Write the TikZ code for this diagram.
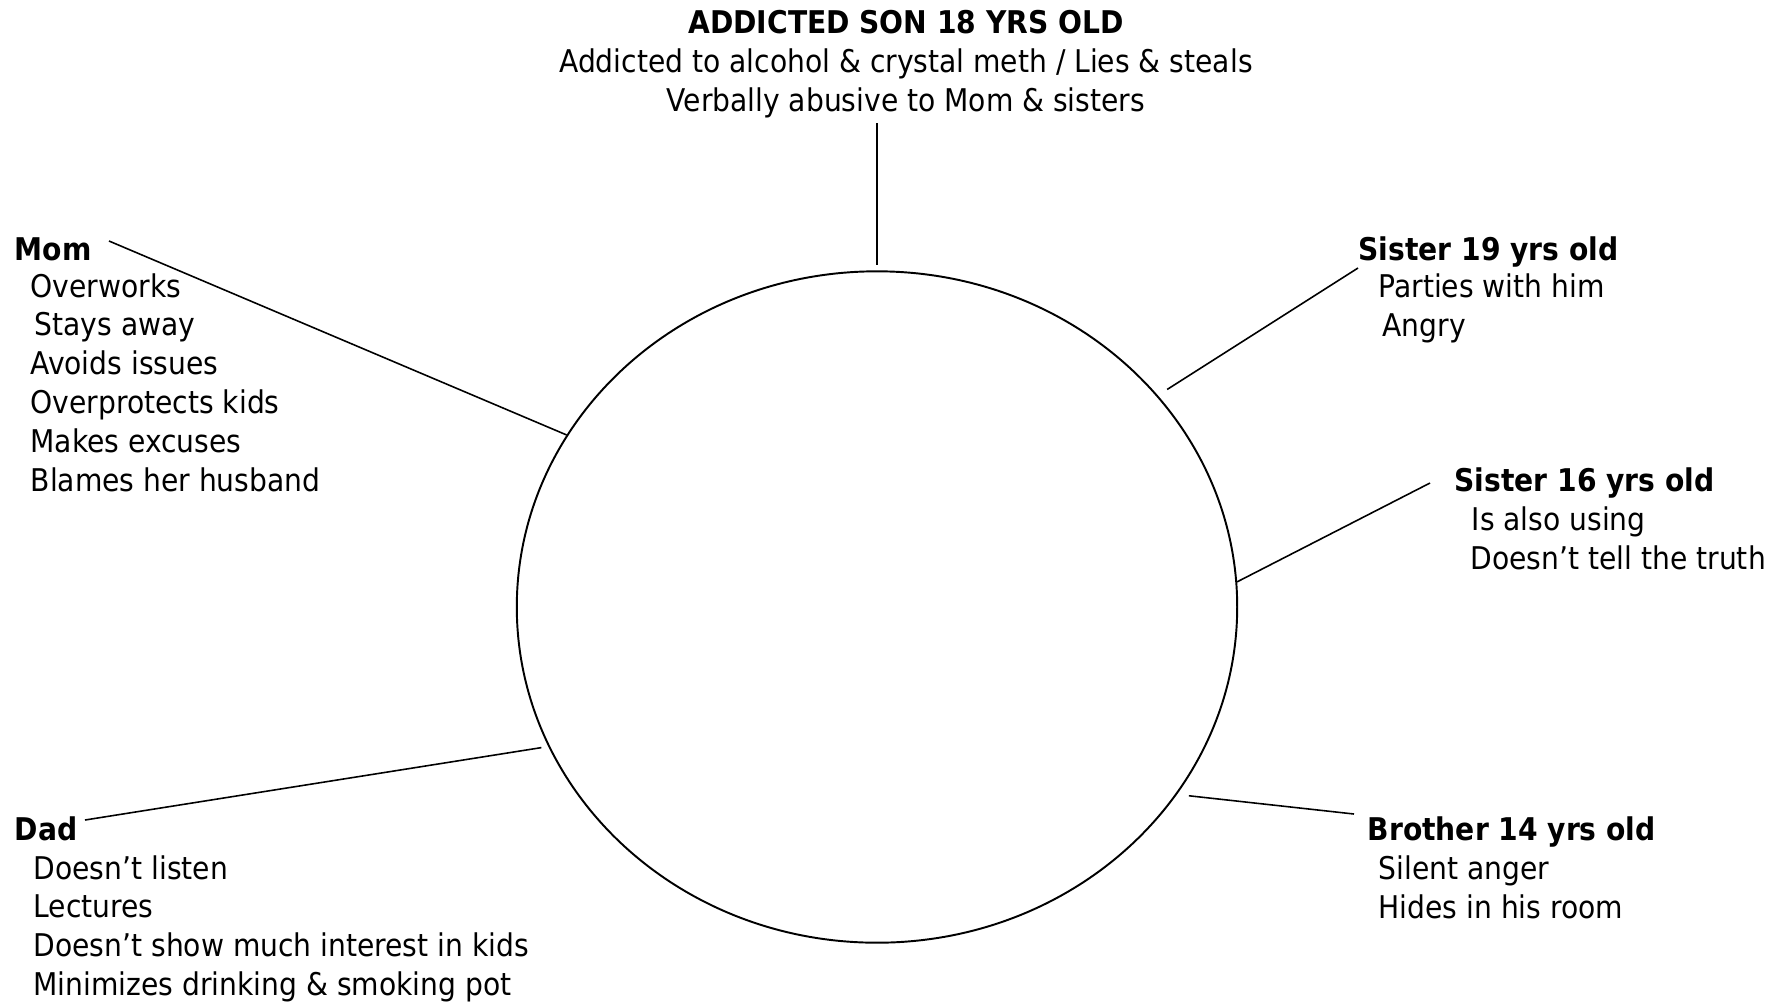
\documentclass[tikz,border=0pt]{standalone}
\usepackage{fontspec}
\setmainfont{DejaVu Sans Condensed}
\usetikzlibrary{shapes.geometric}
\tikzset{
  head/.style={font=\fontsize{8.9}{11}\selectfont\bfseries, inner sep=0pt, anchor=base west},
  item/.style={font=\fontsize{8.9}{11}\selectfont, inner sep=0pt, anchor=base west},
  spoke/.style={line width=0.45pt},
}
\begin{document}
\begin{tikzpicture}[x=0.01cm, y=-0.01cm]
  \useasboundingbox (0,0) rectangle (1781,1005);

  % Son in the middle
  \node[draw, ellipse, line width=0.55pt, minimum width=7.2cm, minimum height=6.71cm, inner sep=0pt] (son) at (877,607) {};
  \node[head, anchor=base] (sonhead) at (906,33) {ADDICTED SON 18 YRS OLD};
  \node[item, anchor=base] (son1) at (906,72) {Addicted to alcohol \& crystal meth / Lies \& steals};
  \node[item, anchor=base] (son2) at (906,111) {Verbally abusive to Mom \& sisters};
  \coordinate (sontip) at (877,123);
  \draw[spoke, shorten >=0.05cm] (sontip) -- (son.90);

  % Mom
  \node[head] (mom) at (14,260) {Mom};
  \foreach \x/\t [count=\i] in {30/Overworks, 34/Stays away, 30/Avoids issues, 30/Overprotects kids, 30/Makes excuses, 30/Blames her husband}
    \node[item] (mom\i) at (\x,{297+38.8*(\i-1)}) {\t};
  \coordinate (momtip) at (109,241);
  \draw[spoke] (momtip) -- (son.151);

  % Dad
  \node[head] (dad) at (14,840) {Dad};
  \foreach \t [count=\i] in {Doesn’t listen, Lectures, Doesn’t show much interest in kids, Minimizes drinking \& smoking pot}
    \node[item] (dad\i) at (33,{879+38.8*(\i-1)}) {\t};
  \coordinate (dadtip) at (85,820);
  \draw[spoke, shorten >=0.07cm] (dadtip) -- (son.203);

  % Sister 19
  \node[head] (sisa) at (1358,260) {Sister 19 yrs old};
  \node[item] (sisa1) at (1378,297) {Parties with him};
  \node[item] (sisa2) at (1382,336) {Angry};
  \coordinate (sisatip) at (1358,268);
  \draw[spoke, shorten >=0.11cm] (sisatip) -- (son.37.6);

  % Sister 16
  \node[head] (sisb) at (1454,491) {Sister 16 yrs old};
  \node[item] (sisb1) at (1471,530) {Is also using};
  \node[item] (sisb2) at (1470,569) {Doesn’t tell the truth};
  \coordinate (sisbtip) at (1430,483);
  \draw[spoke] (sisbtip) -- (son.4.5);

  % Brother 14
  \node[head] (bro) at (1367,840) {Brother 14 yrs old};
  \node[item] (bro1) at (1378,879) {Silent anger};
  \node[item] (bro2) at (1378,918) {Hides in his room};
  \coordinate (brotip) at (1354,814);
  \draw[spoke, shorten >=0.12cm] (brotip) -- (son.328);
\end{tikzpicture}
\end{document}
